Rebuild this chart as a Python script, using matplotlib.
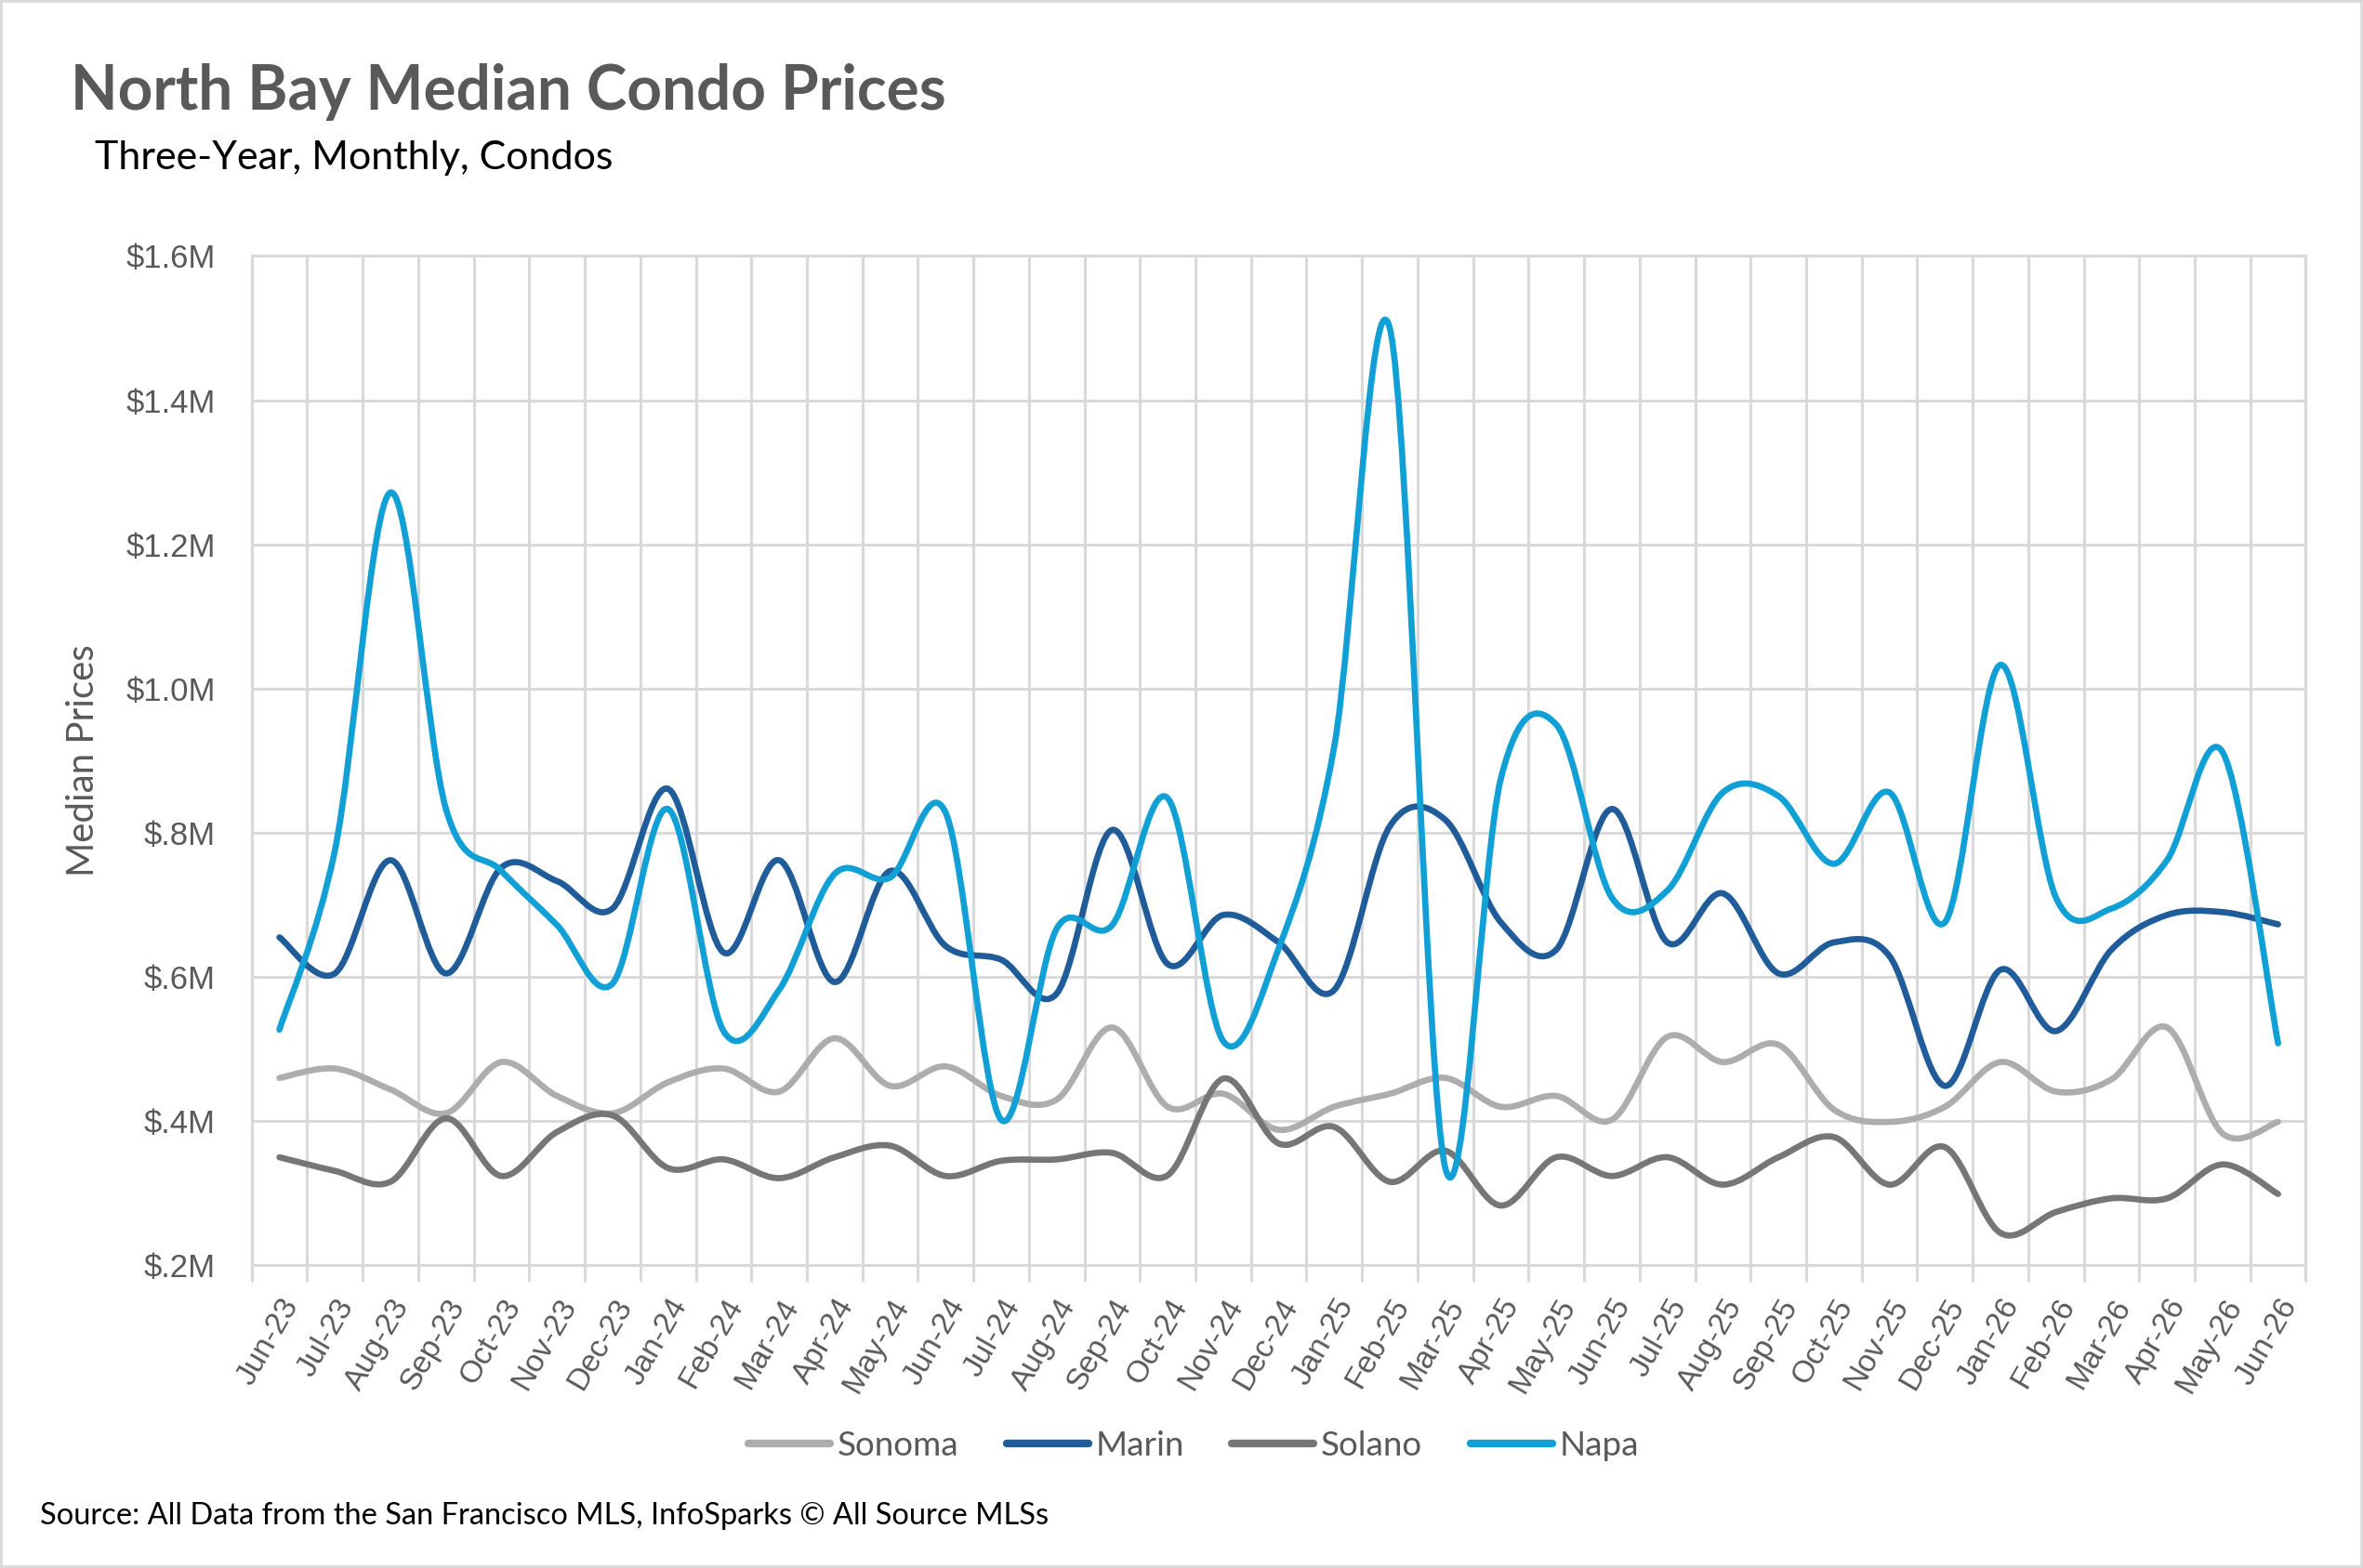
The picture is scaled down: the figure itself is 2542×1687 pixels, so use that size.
import matplotlib.pyplot as plt
import numpy as np
from matplotlib.path import Path
from matplotlib.patches import PathPatch, Rectangle
from matplotlib.lines import Line2D
from matplotlib.ticker import FuncFormatter

months = ['Jun-23', 'Jul-23', 'Aug-23', 'Sep-23', 'Oct-23', 'Nov-23', 'Dec-23',
          'Jan-24', 'Feb-24', 'Mar-24', 'Apr-24', 'May-24', 'Jun-24', 'Jul-24',
          'Aug-24', 'Sep-24', 'Oct-24', 'Nov-24', 'Dec-24', 'Jan-25', 'Feb-25',
          'Mar-25', 'Apr-25', 'May-25', 'Jun-25', 'Jul-25', 'Aug-25', 'Sep-25',
          'Oct-25', 'Nov-25', 'Dec-25', 'Jan-26', 'Feb-26', 'Mar-26', 'Apr-26',
          'May-26', 'Jun-26']

# median prices in $M
sonoma = [0.460, 0.473, 0.444, 0.411, 0.482, 0.435, 0.411, 0.454, 0.473, 0.441,
          0.515, 0.449, 0.476, 0.435, 0.430, 0.530, 0.420, 0.438, 0.388, 0.420,
          0.438, 0.460, 0.420, 0.435, 0.402, 0.517, 0.482, 0.506, 0.416, 0.399,
          0.420, 0.482, 0.441, 0.458, 0.530, 0.383, 0.399]
marin = [0.655, 0.605, 0.762, 0.605, 0.752, 0.733, 0.695, 0.861, 0.634, 0.762,
         0.593, 0.747, 0.643, 0.624, 0.577, 0.804, 0.618, 0.686, 0.648, 0.582,
         0.809, 0.818, 0.676, 0.638, 0.833, 0.648, 0.716, 0.605, 0.648, 0.629,
         0.449, 0.610, 0.525, 0.638, 0.686, 0.690, 0.673]
solano = [0.350, 0.331, 0.316, 0.404, 0.324, 0.385, 0.408, 0.335, 0.347, 0.321,
          0.350, 0.366, 0.324, 0.345, 0.347, 0.356, 0.325, 0.459, 0.369, 0.392,
          0.316, 0.359, 0.283, 0.350, 0.324, 0.350, 0.312, 0.350, 0.378, 0.312,
          0.364, 0.245, 0.274, 0.293, 0.293, 0.340, 0.299]
napa = [0.527, 0.776, 1.272, 0.833, 0.747, 0.672, 0.591, 0.833, 0.525, 0.582,
        0.743, 0.738, 0.828, 0.402, 0.667, 0.672, 0.848, 0.511, 0.640, 0.920,
        1.500, 0.335, 0.875, 0.950, 0.710, 0.720, 0.856, 0.851, 0.757, 0.856,
        0.676, 1.033, 0.710, 0.695, 0.762, 0.912, 0.508]

names = ['Sonoma', 'Marin', 'Solano', 'Napa']
colors = ['#ADADAD', '#1F5C99', '#767676', '#10A0D6']
series = [sonoma, marin, solano, napa]

text_gray = '#595959'
grid_gray = '#D9D9D9'


def smooth_path(x, y):
    # Excel style smoothed line: cubic bezier through every point
    x = np.asarray(x, float)
    y = np.asarray(y, float)
    verts = [(x[0], y[0])]
    codes = [Path.MOVETO]
    n = len(x)
    for i in range(n - 1):
        i0 = max(i - 1, 0)
        i3 = min(i + 2, n - 1)
        c1 = (x[i] + (x[i + 1] - x[i0]) / 6, y[i] + (y[i + 1] - y[i0]) / 6)
        c2 = (x[i + 1] - (x[i3] - x[i]) / 6, y[i + 1] - (y[i3] - y[i]) / 6)
        verts += [c1, c2, (x[i + 1], y[i + 1])]
        codes += [Path.CURVE4] * 3
    return Path(verts, codes)


plt.rcParams['font.family'] = ['Lato', 'DejaVu Sans']
tick_font = ['Liberation Sans', 'DejaVu Sans']

fig = plt.figure(figsize=(25.42, 16.87), dpi=100)
ax = fig.add_axes([0.1065, 0.193, 0.8693, 0.6437])

xs = np.arange(len(months))
for vals, c in zip(series, colors):
    p = PathPatch(smooth_path(xs, np.array(vals) * 1e6), fill=False,
                  edgecolor=c, lw=4.8, capstyle='round', joinstyle='round')
    ax.add_patch(p)

ax.set_xlim(-0.5, len(months) - 0.5)
ax.set_ylim(0.2e6, 1.6e6)
ax.set_yticks(np.arange(0.2e6, 1.61e6, 0.2e6))


def money(v, pos):
    s = '{:.1f}'.format(v / 1e6)
    if s.startswith('0'):
        s = s[1:]
    return '$' + s + 'M'


ax.yaxis.set_major_formatter(FuncFormatter(money))
ax.set_xticks(xs)
ax.set_xticklabels(months, rotation=60, ha='right', va='top',
                   rotation_mode='anchor', family=tick_font)
for lab in ax.get_yticklabels():
    lab.set_family(tick_font)
ax.set_xticks(np.arange(-0.5, len(months)), minor=True)
ax.tick_params(axis='x', which='major', length=0, pad=22, labelsize=24,
               labelcolor=text_gray)
ax.tick_params(axis='x', which='minor', length=13, width=2.2, color=grid_gray)
ax.tick_params(axis='y', length=0, pad=28, labelsize=25, labelcolor=text_gray)
ax.grid(True, which='minor', axis='x', color=grid_gray, lw=2.2)
ax.grid(True, which='major', axis='y', color=grid_gray, lw=2.2)
ax.set_axisbelow(True)
for s in ax.spines.values():
    s.set_color(grid_gray)
    s.set_linewidth(2.2)

ax.set_ylabel('Median Prices', fontsize=29, color=text_gray, labelpad=20)

fig.text(0.03, 0.93, 'North Bay Median Condo Prices', fontsize=47.3,
         fontweight='bold', color=text_gray, va='baseline')
fig.text(0.04, 0.892, 'Three-Year, Monthly, Condos', fontsize=31,
         color='black', va='baseline')
fig.text(0.017, 0.028, 'Source: All Data from the San Francisco MLS, InfoSparks \u00a9 All Source MLSs',
         fontsize=23.5, color='black', va='baseline')

handles = [Line2D([0], [0], color=c, lw=6, solid_capstyle='round') for c in colors]
fig.legend(handles, names, loc='center', bbox_to_anchor=(0.505, 0.078),
           ncol=4, frameon=False, fontsize=26.5, labelcolor=text_gray,
           handlelength=2.4, handletextpad=0.2, columnspacing=1.4)

fig.patches.append(Rectangle((0, 0), 1, 1, transform=fig.transFigure,
                             fill=False, edgecolor=grid_gray, lw=4))

fig.savefig('out.png', dpi=100, facecolor='white')
